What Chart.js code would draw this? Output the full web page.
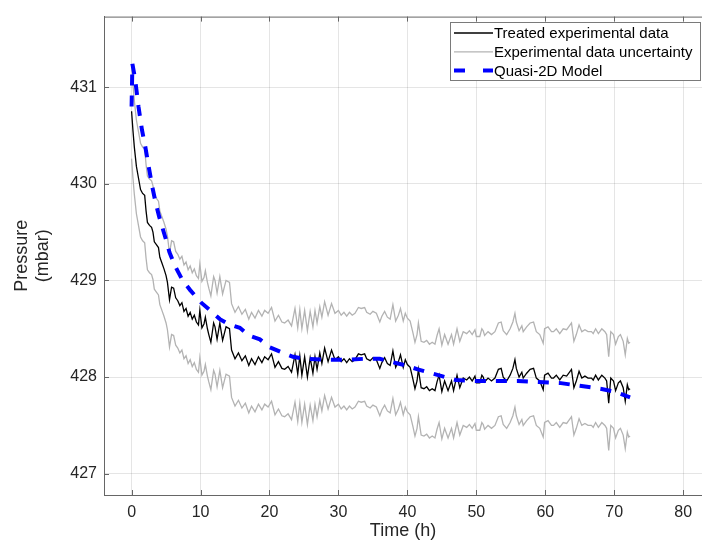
<!DOCTYPE html>
<html>
<head>
<meta charset="utf-8">
<title>Pressure vs time</title>
<script src="https://cdn.jsdelivr.net/npm/chart.js@4.4.1/dist/chart.umd.min.js"></script>
<style>
  html, body { margin: 0; padding: 0; background: #fff; }
  #wrap { width: 702px; height: 544px; }
</style>
</head>
<body>
<div id="wrap"><canvas id="pressureChart" width="702" height="544"></canvas></div>
<script>
// time (h) shared by the treated data and its uncertainty band
const timeH = [
  0.0, 0.2, 0.4, 0.7, 1.0, 1.3, 1.6, 1.9, 2.1, 2.3, 2.6, 2.9, 3.1, 3.3, 3.6, 3.9, 4.1, 4.4, 4.7, 5.0,
  5.2, 5.5, 5.8, 6.1, 6.4, 6.7, 7.0, 7.3, 7.6, 7.9, 8.2, 8.5, 8.8, 9.1, 9.4, 9.7, 9.9, 10.2, 10.5, 10.7,
  11.0, 11.2, 11.5, 11.9, 12.1, 12.4, 12.8, 13.2, 13.7, 14.2, 14.5, 15.0, 15.5, 16.0, 16.5, 17.0, 17.4, 17.9, 18.4, 18.9,
  19.3, 19.8, 20.3, 20.8, 21.3, 21.8, 22.2, 22.7, 23.2, 23.7, 24.1, 24.4, 24.7, 25.1, 25.5, 25.9, 26.3, 26.6, 26.9, 27.3,
  27.6, 28.0, 28.5, 29.0, 29.5, 30.0, 30.4, 30.8, 31.2, 31.6, 32.0, 32.4, 32.9, 33.3, 33.8, 34.1, 34.6, 35.0, 35.5, 36.0,
  36.3, 36.7, 37.1, 37.5, 37.9, 38.3, 38.7, 39.0, 39.4, 39.7, 40.0, 40.4, 40.8, 41.1, 41.4, 41.6, 42.0, 42.4, 42.8, 43.2,
  43.6, 44.0, 44.3, 44.6, 45.0, 45.4, 45.9, 46.4, 46.7, 47.2, 47.6, 48.1, 48.6, 49.0, 49.4, 49.8, 50.0, 50.5, 50.8, 51.0,
  51.2, 51.7, 52.2, 52.7, 53.2, 53.6, 53.9, 54.4, 54.9, 55.3, 55.6, 55.8, 56.2, 56.6, 56.8, 57.3, 57.8, 58.3, 58.7, 59.2,
  59.7, 59.9, 60.4, 60.9, 61.2, 61.6, 62.1, 62.6, 63.1, 63.6, 63.8, 64.15, 64.5, 64.9, 65.3, 65.75, 66.2, 66.7, 66.95, 67.3,
  67.7, 68.2, 68.65, 68.9, 69.2, 69.5, 69.9, 70.2, 70.6, 70.9, 71.3, 71.6, 71.9, 72.1, 72.3
];

// treated experimental data (mbar)
const treated = [
  430.75, 430.55, 430.38, 430.18, 430.06, 429.94, 429.90, 429.88, 429.72, 429.60, 429.57, 429.55, 429.50, 429.40, 429.37, 429.34, 429.24, 429.18, 429.12, 429.05,
  428.98, 428.80, 428.93, 428.92, 428.82, 428.79, 428.74, 428.77, 428.68, 428.71, 428.63, 428.67, 428.60, 428.64, 428.57, 428.54, 428.69, 428.51, 428.55, 428.62,
  428.50, 428.44, 428.36, 428.56, 428.52, 428.39, 428.56, 428.38, 428.52, 428.50, 428.28, 428.19, 428.25, 428.17, 428.22, 428.12, 428.19, 428.13, 428.21, 428.15,
  428.21, 428.18, 428.24, 428.10, 428.16, 428.09, 428.08, 428.11, 428.05, 428.23, 428.03, 428.22, 428.02, 428.21, 428.00, 428.20, 428.04, 428.21, 428.08, 428.25,
  428.14, 428.30, 428.16, 428.28, 428.18, 428.21, 428.16, 428.19, 428.15, 428.19, 428.16, 428.18, 428.24, 428.23, 428.24, 428.19, 428.17, 428.20, 428.18, 428.09,
  428.15, 428.20, 428.14, 428.12, 428.27, 428.10, 428.16, 428.23, 428.10, 428.18, 428.13, 428.10, 427.98, 427.88, 427.96, 428.08, 427.89, 427.88, 427.90, 427.86,
  427.88, 427.86, 427.95, 428.02, 427.85, 427.96, 427.86, 427.96, 427.86, 428.02, 427.89, 427.99, 427.97, 428.00, 427.96, 428.01, 427.94, 427.94, 428.02, 428.00,
  427.95, 427.99, 427.96, 427.99, 428.08, 428.09, 428.00, 427.96, 428.02, 428.09, 428.18, 428.09, 428.00, 428.05, 427.99, 428.04, 428.08, 428.09, 427.99, 427.96,
  427.87, 428.02, 428.04, 427.99, 427.99, 428.02, 427.97, 428.02, 428.01, 428.06, 428.08, 427.89, 427.96, 428.06, 427.99, 428.01, 427.99, 427.99, 427.97, 428.02,
  427.97, 428.02, 427.99, 427.96, 427.73, 427.99, 427.96, 427.86, 427.94, 427.96, 427.89, 427.75, 427.92, 427.87, 427.88
];

// upper edge of the uncertainty band (mbar)
const upperBand = [
  431.23, 431.03, 430.86, 430.66, 430.54, 430.42, 430.38, 430.36, 430.20, 430.08, 430.05, 430.03, 429.98, 429.88, 429.85, 429.82, 429.72, 429.66, 429.60, 429.53,
  429.46, 429.28, 429.41, 429.40, 429.30, 429.27, 429.22, 429.25, 429.16, 429.19, 429.11, 429.15, 429.08, 429.12, 429.05, 429.02, 429.17, 428.99, 429.03, 429.10,
  428.98, 428.92, 428.84, 429.04, 429.00, 428.87, 429.04, 428.86, 429.00, 428.98, 428.76, 428.67, 428.73, 428.65, 428.70, 428.60, 428.67, 428.61, 428.69, 428.63,
  428.69, 428.66, 428.72, 428.58, 428.64, 428.57, 428.56, 428.59, 428.53, 428.71, 428.51, 428.70, 428.50, 428.69, 428.48, 428.68, 428.52, 428.69, 428.56, 428.73,
  428.62, 428.78, 428.64, 428.76, 428.66, 428.69, 428.64, 428.67, 428.63, 428.67, 428.64, 428.66, 428.72, 428.71, 428.72, 428.67, 428.65, 428.68, 428.66, 428.57,
  428.63, 428.68, 428.62, 428.60, 428.75, 428.58, 428.64, 428.71, 428.58, 428.66, 428.61, 428.58, 428.46, 428.36, 428.44, 428.56, 428.37, 428.36, 428.38, 428.34,
  428.36, 428.34, 428.43, 428.50, 428.33, 428.44, 428.34, 428.44, 428.34, 428.50, 428.37, 428.47, 428.45, 428.48, 428.44, 428.49, 428.42, 428.42, 428.50, 428.48,
  428.43, 428.47, 428.44, 428.47, 428.56, 428.57, 428.48, 428.44, 428.50, 428.57, 428.66, 428.57, 428.48, 428.53, 428.47, 428.52, 428.56, 428.57, 428.47, 428.44,
  428.35, 428.50, 428.52, 428.47, 428.47, 428.50, 428.45, 428.50, 428.49, 428.54, 428.56, 428.37, 428.44, 428.54, 428.47, 428.49, 428.47, 428.47, 428.45, 428.50,
  428.45, 428.50, 428.47, 428.44, 428.21, 428.47, 428.44, 428.34, 428.42, 428.44, 428.37, 428.23, 428.40, 428.35, 428.36
];

// lower edge of the uncertainty band (mbar)
const lowerBand = [
  430.26, 430.06, 429.89, 429.69, 429.57, 429.45, 429.41, 429.39, 429.23, 429.11, 429.08, 429.06, 429.01, 428.91, 428.88, 428.85, 428.75, 428.69, 428.63, 428.56,
  428.49, 428.31, 428.44, 428.43, 428.33, 428.30, 428.25, 428.28, 428.19, 428.22, 428.14, 428.18, 428.11, 428.15, 428.08, 428.05, 428.20, 428.02, 428.06, 428.13,
  428.01, 427.95, 427.87, 428.07, 428.03, 427.90, 428.07, 427.89, 428.03, 428.01, 427.79, 427.70, 427.76, 427.68, 427.73, 427.63, 427.70, 427.64, 427.72, 427.66,
  427.72, 427.69, 427.75, 427.61, 427.67, 427.60, 427.59, 427.62, 427.56, 427.74, 427.54, 427.73, 427.53, 427.72, 427.51, 427.71, 427.55, 427.72, 427.59, 427.76,
  427.65, 427.81, 427.67, 427.79, 427.69, 427.72, 427.67, 427.70, 427.66, 427.70, 427.67, 427.69, 427.75, 427.74, 427.75, 427.70, 427.68, 427.71, 427.69, 427.60,
  427.66, 427.71, 427.65, 427.63, 427.78, 427.61, 427.67, 427.74, 427.61, 427.69, 427.64, 427.61, 427.49, 427.39, 427.47, 427.59, 427.40, 427.39, 427.41, 427.37,
  427.39, 427.37, 427.46, 427.53, 427.36, 427.47, 427.37, 427.47, 427.37, 427.53, 427.40, 427.50, 427.48, 427.51, 427.47, 427.52, 427.45, 427.45, 427.53, 427.51,
  427.46, 427.50, 427.47, 427.50, 427.59, 427.60, 427.51, 427.47, 427.53, 427.60, 427.69, 427.60, 427.51, 427.56, 427.50, 427.55, 427.59, 427.60, 427.50, 427.47,
  427.38, 427.53, 427.55, 427.50, 427.50, 427.53, 427.48, 427.53, 427.52, 427.57, 427.59, 427.40, 427.47, 427.57, 427.50, 427.52, 427.50, 427.50, 427.48, 427.53,
  427.48, 427.53, 427.50, 427.47, 427.24, 427.50, 427.47, 427.37, 427.45, 427.47, 427.40, 427.26, 427.43, 427.38, 427.39
];

// Quasi-2D model output
const modelTime = [
  0.0, 0.12, 0.5, 1.0, 1.5, 2.0, 2.5, 3.0, 3.5, 4.0, 4.5, 5.0, 5.5, 6.3, 7.4, 8.5, 10.1, 11.4, 12.8, 14.0,
  15.7, 17.0, 18.6, 20.0, 22.0, 23.4, 25.0, 28.0, 31.0, 34.0, 36.0, 37.5, 39.8, 41.5, 43.5, 45.0, 47.0, 50.0, 53.0, 56.0,
  59.0, 62.0, 65.0, 68.0, 70.0, 72.3
];
const modelP = [
  430.80, 431.24, 431.09, 430.80, 430.56, 430.38, 430.17, 429.97, 429.80, 429.66, 429.54, 429.42, 429.29, 429.15, 429.00, 428.90, 428.77, 428.69, 428.60, 428.55,
  428.51, 428.43, 428.39, 428.31, 428.25, 428.21, 428.19, 428.18, 428.18, 428.19, 428.19, 428.16, 428.12, 428.08, 428.04, 428.01, 427.97, 427.96, 427.96, 427.96,
  427.95, 427.94, 427.91, 427.88, 427.85, 427.79
];

// axes
const xTicks = [0, 10, 20, 30, 40, 50, 60, 70, 80];
const yTicks = [427, 428, 429, 430, 431];
const xRange = [-4, 82.73];
const yRange = [426.78, 431.73];

const axisColor = '#666666';
const textColor = '#262626';
Chart.defaults.font.family = '"Liberation Sans", Arial, Helvetica, sans-serif';

function toPoints(xs, ys) {
    return xs.map(function(x, i) { return { x: x, y: ys[i] }; });
}

// MATLAB style: box on top, ticks pointing inward
const innerTicks = {
    id: 'innerTicks',
    afterDraw: function(chart) {
        const ctx = chart.ctx;
        const a = chart.chartArea;
        const xs = chart.scales.x, ys = chart.scales.y;
        ctx.save();
        ctx.strokeStyle = axisColor;
        ctx.lineWidth = 1;
        ctx.beginPath();
        ctx.moveTo(a.left, a.top + 0.5);
        ctx.lineTo(a.right, a.top + 0.5);
        xTicks.forEach(function(v) {
            const px = Math.round(xs.getPixelForValue(v)) + 0.5;
            ctx.moveTo(px, a.bottom);
            ctx.lineTo(px, a.bottom - 5);
            ctx.moveTo(px, a.top);
            ctx.lineTo(px, a.top + 5);
        });
        yTicks.forEach(function(v) {
            const py = Math.round(ys.getPixelForValue(v)) + 0.5;
            ctx.moveTo(a.left, py);
            ctx.lineTo(a.left + 5, py);
        });
        ctx.stroke();
        ctx.restore();
    }
};

// legend drawn inside the axes, top right (dataset order)
const insideLegend = {
    id: 'insideLegend',
    afterDraw: function(chart) {
        const ctx = chart.ctx;
        const items = chart.data.datasets.filter(function(ds) { return ds.inLegend; });
        const box = { left: 450, top: 22, width: 251, height: 59 };
        ctx.save();
        ctx.fillStyle = '#ffffff';
        ctx.fillRect(box.left, box.top, box.width, box.height);
        ctx.strokeStyle = '#7a7a7a';
        ctx.lineWidth = 1;
        ctx.strokeRect(box.left + 0.5, box.top + 0.5, box.width - 1, box.height - 1);
        ctx.font = '15px ' + Chart.defaults.font.family;
        ctx.textBaseline = 'middle';
        items.forEach(function(ds, i) {
            const y = box.top + 11 + i * 18.8;
            ctx.strokeStyle = ds.borderColor;
            ctx.lineWidth = ds.borderWidth;
            ctx.beginPath();
            if (ds.borderDash) {
                ctx.moveTo(454, y); ctx.lineTo(465, y);
                ctx.moveTo(483, y); ctx.lineTo(493, y);
            } else {
                ctx.moveTo(454, y); ctx.lineTo(493, y);
            }
            ctx.stroke();
            ctx.fillStyle = '#000000';
            ctx.fillText(ds.label, 494, y + 1);
        });
        ctx.restore();
    }
};

new Chart(document.getElementById('pressureChart'), {
    type: 'line',
    data: {
        datasets: [
            {
                label: 'Treated experimental data',
                data: toPoints(timeH, treated),
                borderColor: '#000000',
                borderWidth: 1.3,
                order: 1,
                inLegend: true,
            },
            {
                label: 'Experimental data uncertainty',
                data: toPoints(timeH, upperBand),
                borderColor: '#b3b3b3',
                borderWidth: 1.3,
                order: 2,
                inLegend: true,
            },
            {
                label: 'Experimental data uncertainty (lower)',
                data: toPoints(timeH, lowerBand),
                borderColor: '#b3b3b3',
                borderWidth: 1.3,
                order: 3,
                inLegend: false,
            },
            {
                label: 'Quasi-2D Model',
                data: toPoints(modelTime, modelP),
                borderColor: '#0000ff',
                borderWidth: 4,
                borderDash: [11, 10],
                order: 0,
                inLegend: true,
            },
        ]
    },
    options: {
        responsive: false,
        animation: false,
        devicePixelRatio: 1,
        elements: {
            point: { radius: 0 },
            line: { tension: 0, fill: false, borderCapStyle: 'butt' }
        },
        layout: { padding: { top: 11, right: 0, bottom: 0, left: 0 } },
        plugins: {
            legend: { display: false },
            tooltip: { enabled: false },
        },
        scales: {
            x: {
                type: 'linear',
                min: xRange[0],
                max: xRange[1],
                afterBuildTicks: function(scale) {
                    scale.ticks = xTicks.map(function(v) { return { value: v }; });
                },
                afterFit: function(scale) { scale.height = 49; },
                grid: { color: 'rgba(0,0,0,0.1)', drawTicks: false },
                border: { color: axisColor, width: 1 },
                ticks: {
                    padding: 8,
                    color: textColor,
                    font: { size: 16 },
                    maxRotation: 0,
                },
                title: {
                    display: true,
                    text: 'Time (h)',
                    color: textColor,
                    font: { size: 18, lineHeight: 1.17 },
                    padding: { top: 0, bottom: 2 },
                }
            },
            y: {
                type: 'linear',
                min: yRange[0],
                max: yRange[1],
                afterBuildTicks: function(scale) {
                    scale.ticks = yTicks.map(function(v) { return { value: v }; });
                },
                afterFit: function(scale) { scale.width = 104; },
                grid: { color: 'rgba(0,0,0,0.1)', drawTicks: false },
                border: { color: axisColor, width: 1 },
                ticks: {
                    padding: 7,
                    color: textColor,
                    font: { size: 16 },
                },
                title: {
                    display: true,
                    text: ['Pressure', '(mbar)'],
                    color: textColor,
                    font: { size: 18, lineHeight: 1.17 },
                    padding: { top: 11.5, bottom: 0 },
                }
            }
        }
    },
    plugins: [innerTicks, insideLegend]
});
</script>
</body>
</html>
